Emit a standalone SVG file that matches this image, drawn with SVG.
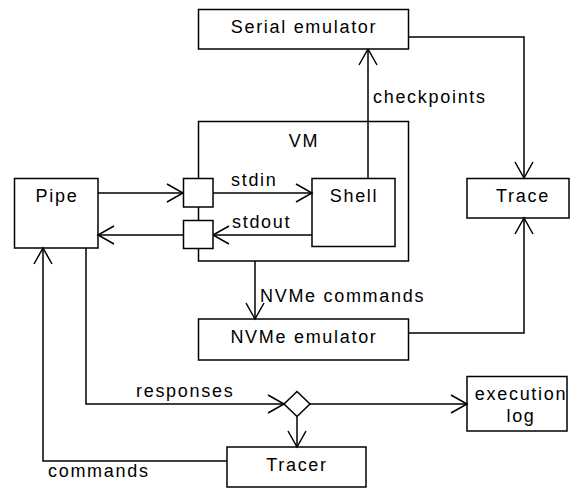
<svg xmlns="http://www.w3.org/2000/svg" width="570" height="489" viewBox="0 0 570 489">
<style>
.box{fill:#fff;stroke:#000;stroke-width:1.5}
.t{font-family:"Liberation Sans",Arial,sans-serif;font-size:18px;letter-spacing:1.7px;fill:#000}
.m{text-anchor:middle}
.c{fill:none;stroke:#000;stroke-width:1.5}
</style>
<defs>
<marker id="arr" markerUnits="userSpaceOnUse" markerWidth="20" markerHeight="22" refX="17" refY="10" orient="auto">
<path d="M1,1 L17,10 L1,19" fill="none" stroke="#000" stroke-width="1.5"/>
</marker>
</defs>
<rect width="570" height="489" fill="#fff"/>
<g id="vm">
<rect class="box" x="198.5" y="121.5" width="210" height="139.5"/>
<text class="t m" x="304" y="147">VM</text>
</g>
<g id="serial">
<rect class="box" x="198.5" y="9.5" width="210" height="39.5"/>
<text class="t m" x="304" y="33">Serial emulator</text>
</g>
<g id="shell">
<rect class="box" x="312" y="178.5" width="83" height="68"/>
<text class="t m" x="354" y="202">Shell</text>
</g>
<g id="pipe">
<rect class="box" x="14.5" y="178.5" width="83.5" height="69.5"/>
<text class="t m" x="57" y="202">Pipe</text>
</g>
<g id="trace">
<rect class="box" x="467" y="178.5" width="102" height="39.5"/>
<text class="t m" x="523" y="202">Trace</text>
</g>
<g id="nvme">
<rect class="box" x="198.5" y="319" width="210" height="41"/>
<text class="t m" x="304" y="343">NVMe emulator</text>
</g>
<g id="execlog">
<rect class="box" x="467" y="376.5" width="100" height="54.5"/>
<text class="t m" x="521" y="400">execution</text>
<text class="t m" x="521" y="422">log</text>
</g>
<g id="tracer">
<rect class="box" x="227" y="447" width="139" height="40"/>
<text class="t m" x="297" y="471">Tracer</text>
</g>
<g id="connectors">
<path class="c" d="M409,37 H524 V178" marker-end="url(#arr)"/>
<path class="c" d="M368,178 V49" marker-end="url(#arr)"/>
<path class="c" d="M98,193 H183" marker-end="url(#arr)"/>
<path class="c" d="M213,193 H312" marker-end="url(#arr)"/>
<path class="c" d="M312,235 H213" marker-end="url(#arr)"/>
<path class="c" d="M183,235 H98" marker-end="url(#arr)"/>
<path class="c" d="M255,261 V319" marker-end="url(#arr)"/>
<path class="c" d="M409,333 H524 V218" marker-end="url(#arr)"/>
<path class="c" d="M86,248 V404 H284" marker-end="url(#arr)"/>
<path class="c" d="M310,404 H467" marker-end="url(#arr)"/>
<path class="c" d="M297,417 V447" marker-end="url(#arr)"/>
<path class="c" d="M227,461 H43 V248" marker-end="url(#arr)"/>
<text class="t" x="373" y="103">checkpoints</text>
<text class="t" x="231" y="186">stdin</text>
<text class="t" x="232" y="228">stdout</text>
<text class="t" x="260" y="302">NVMe commands</text>
<text class="t" x="136" y="397">responses</text>
<text class="t" x="48" y="477">commands</text>
</g>
<g id="stdin-port">
<rect class="box" x="183.5" y="178.5" width="29.5" height="28.5"/>
</g>
<g id="stdout-port">
<rect class="box" x="183.5" y="220.5" width="29.5" height="28"/>
</g>
<g id="junction">
<path class="box" d="M297,391.5 L310,404 L297,416.5 L284,404 Z"/>
</g>
</svg>
